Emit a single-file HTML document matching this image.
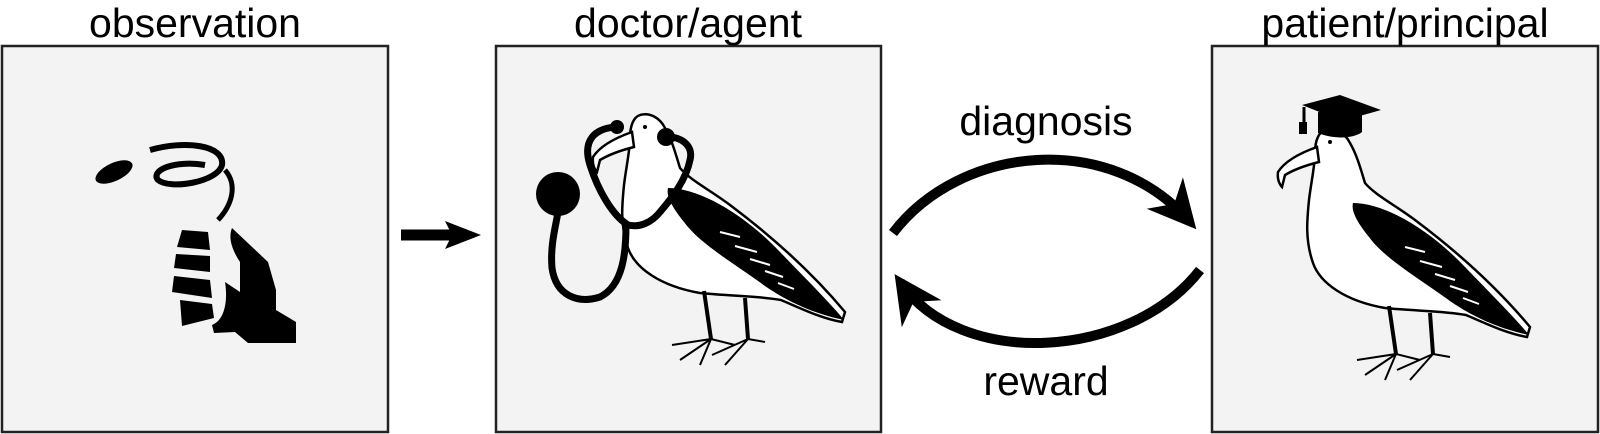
<!DOCTYPE html>
<html><head><meta charset="utf-8"><style>
html,body{margin:0;padding:0;background:#fff;}
svg{display:block;}
text{font-family:"Liberation Sans",sans-serif;font-size:41px;fill:#000;}
</style></head><body>
<svg width="1600" height="434" viewBox="0 0 1600 434" xmlns="http://www.w3.org/2000/svg">
<defs>
<marker id="ah" viewBox="0 0 10 10" refX="8" refY="5" markerWidth="4.8" markerHeight="4.8" orient="auto">
<path d="M0,0 L10,5 L0,10 L3,5 Z" fill="#000"/>
</marker>
<g id="bird">
  <path d="M640,115 C650,112 660,118 665,128 C672,140 676,155 680,168 C690,180 710,190 730,205 C770,235 810,270 845,312 L842,322 C820,318 800,308 781,300 C760,296 730,296 700,293 C660,286 635,268 628,248 C620,225 622,205 624,185 C626,168 630,150 630,138 C630,125 634,117 640,115 Z" fill="#fff" stroke="#000" stroke-width="2.5"/>
  <path d="M632,132 C615,138 600,146 593,157 C592,165 595,170 597,172 L600,160 C610,154 622,150 634,147 Z" fill="#fff" stroke="#000" stroke-width="2.5"/>
  <path d="M668,188 C700,188 745,215 780,252 C810,283 832,305 844,320 C815,314 788,302 765,286 C735,264 700,244 684,222 C672,207 666,196 668,188 Z" fill="#000"/>
  <path d="M720,232 l20,5 M735,246 l22,6 M750,259 l20,6 M765,271 l18,6 M778,283 l16,6" stroke="#fff" stroke-width="2"/>
  <path d="M704,291 L711,339 M745,298 L748,339" stroke="#000" stroke-width="4"/>
  <path d="M711,339 L672,345 M711,339 L680,360 M711,339 L700,365 M711,339 L735,345 M748,339 L712,355 M748,339 L725,365 M748,339 L765,342" stroke="#000" stroke-width="2"/>
  <circle cx="645" cy="127" r="2" fill="#000"/>
</g>
</defs>

<rect x="2" y="46" width="386" height="386" fill="#f3f3f3" stroke="#222" stroke-width="2.5"/>
<rect x="496" y="46" width="385" height="386" fill="#f3f3f3" stroke="#222" stroke-width="2.5"/>
<rect x="1212" y="46" width="386" height="386" fill="#f3f3f3" stroke="#222" stroke-width="2.5"/>

<text x="195" y="37" text-anchor="middle">observation</text>
<text x="688" y="37" text-anchor="middle">doctor/agent</text>
<text x="1405" y="37" text-anchor="middle">patient/principal</text>
<text x="1046" y="135" text-anchor="middle">diagnosis</text>
<text x="1046" y="395" text-anchor="middle">reward</text>

<ellipse cx="114" cy="172" rx="20" ry="9" transform="rotate(-25 114 172)" fill="#000"/>
<path d="M150,150 C185,140 225,145 222,165 C218,182 170,190 158,180 C150,170 175,160 205,165" fill="none" stroke="#000" stroke-width="6"/>
<path d="M225,170 C238,185 232,205 218,220" fill="none" stroke="#000" stroke-width="5"/>
<path d="M182,230 L208,232 L210,250 L177,247 Z M176,254 L210,256 L210,272 L174,268 Z M174,276 L210,280 L212,298 L172,292 Z M180,300 L212,304 L214,318 L182,326 Z" fill="#000"/>
<path d="M232,228 L268,262 L276,290 L276,310 L296,322 L296,343 L248,343 L235,332 L214,333 L212,325 C225,320 228,300 225,282 L240,292 L240,262 C232,250 228,238 232,228 Z" fill="#000"/>

<path d="M401,235 L452,235" stroke="#000" stroke-width="11"/>
<path d="M445,221 L481,235 L445,249 L452,235 Z" fill="#000"/>

<use href="#bird"/>
<use href="#bird" transform="translate(685,15)"/>

<path d="M617,127 C595,128 582,140 590,165 C598,190 612,215 628,225 C640,228 652,222 660,212 C672,198 686,180 690,160 C694,145 680,136 666,137" fill="none" stroke="#000" stroke-width="7"/>
<circle cx="617" cy="127" r="7" fill="#000"/>
<circle cx="666" cy="137" r="9" fill="#000"/>
<path d="M626,225 C626,250 624,285 600,297 C578,304 556,296 552,268 C550,245 556,225 558,212" fill="none" stroke="#000" stroke-width="7"/>
<circle cx="558" cy="194" r="22" fill="#000"/>

<path d="M1302,105 L1340,95 L1381,110 L1342,121 Z" fill="#000"/>
<path d="M1318,112 L1318,133 C1335,140 1355,138 1362,132 L1362,114 Z" fill="#000"/>
<path d="M1304,107 L1304,125" stroke="#000" stroke-width="3"/>
<rect x="1299" y="122" width="8" height="12" fill="#000"/>

<path d="M893,233 C960,145 1110,130 1190,222" fill="none" stroke="#000" stroke-width="10" marker-end="url(#ah)"/>
<path d="M1200,270 C1130,360 960,370 900,282" fill="none" stroke="#000" stroke-width="10" marker-end="url(#ah)"/>
</svg>
</body></html>
